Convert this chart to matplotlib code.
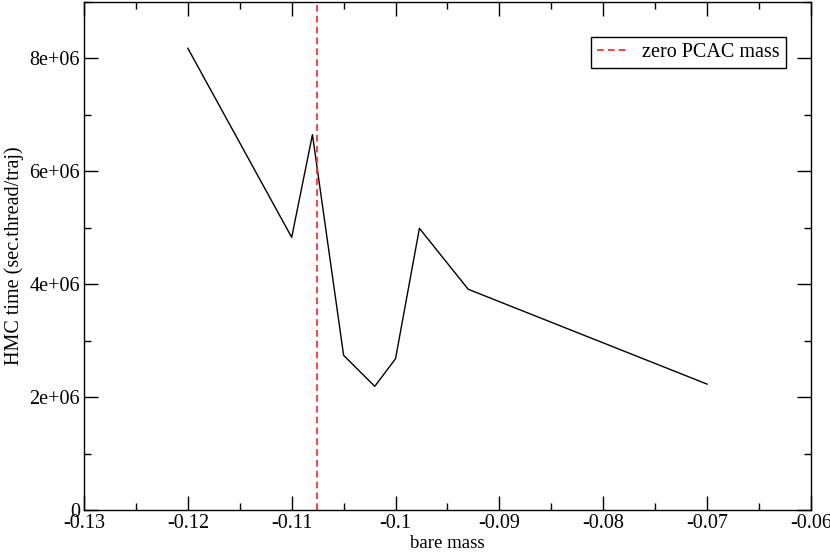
import numpy as np
import matplotlib.pyplot as plt
from matplotlib.ticker import MultipleLocator, FuncFormatter

bare_mass = [-0.12, -0.11, -0.108, -0.105, -0.102, -0.1, -0.0977, -0.093, -0.07]
hmc_time = [8.18e6, 4.83e6, 6.65e6, 2.74e6, 2.19e6, 2.68e6, 4.99e6, 3.91e6, 2.23e6]
zero_pcac = -0.1076

plt.rcParams['font.family'] = ['Liberation Serif', 'DejaVu Serif']
plt.rcParams['font.size'] = 14.5

fig = plt.figure(figsize=(8.3, 5.53), dpi=100)
ax = fig.add_axes([0.1012, 0.0778, 0.8758, 0.9186])

ax.plot(bare_mass, hmc_time, color='black', linewidth=1.0)
ax.axvline(zero_pcac, color='#ff2020', linestyle=(0, (4, 2.5)), linewidth=1.2, label='zero PCAC mass')

ax.set_xlim(-0.13, -0.06)
ax.set_ylim(0, 9e6)
ax.xaxis.set_major_locator(MultipleLocator(0.01))
ax.xaxis.set_minor_locator(MultipleLocator(0.005))
ax.yaxis.set_major_locator(MultipleLocator(2e6))
ax.yaxis.set_minor_locator(MultipleLocator(1e6))
ax.xaxis.set_major_formatter(FuncFormatter(lambda v, p: "%g" % round(v, 3)))
ax.yaxis.set_major_formatter(FuncFormatter(lambda v, p: "0" if v == 0 else "%.0e" % v))

ax.tick_params(which='both', direction='in', top=True, right=True, width=1.0, labelsize=14.5)
ax.tick_params(which='major', length=10, pad=3)
ax.tick_params(which='minor', length=5)
for s in ax.spines.values():
    s.set_linewidth(1.0)

ax.set_xlabel("bare mass", fontsize=13.5, labelpad=1)
ax.set_ylabel("HMC time (sec.thread/traj)", fontsize=14.5, labelpad=4)

leg = ax.legend(loc='upper right', bbox_to_anchor=(0.9656, 0.931), borderaxespad=0, fontsize=14.5,
                fancybox=False, framealpha=1, edgecolor='black', handlelength=1.45,
                handletextpad=0.8, borderpad=0.3)
leg.get_frame().set_linewidth(1.0)

plt.savefig("out.png", dpi=100)
